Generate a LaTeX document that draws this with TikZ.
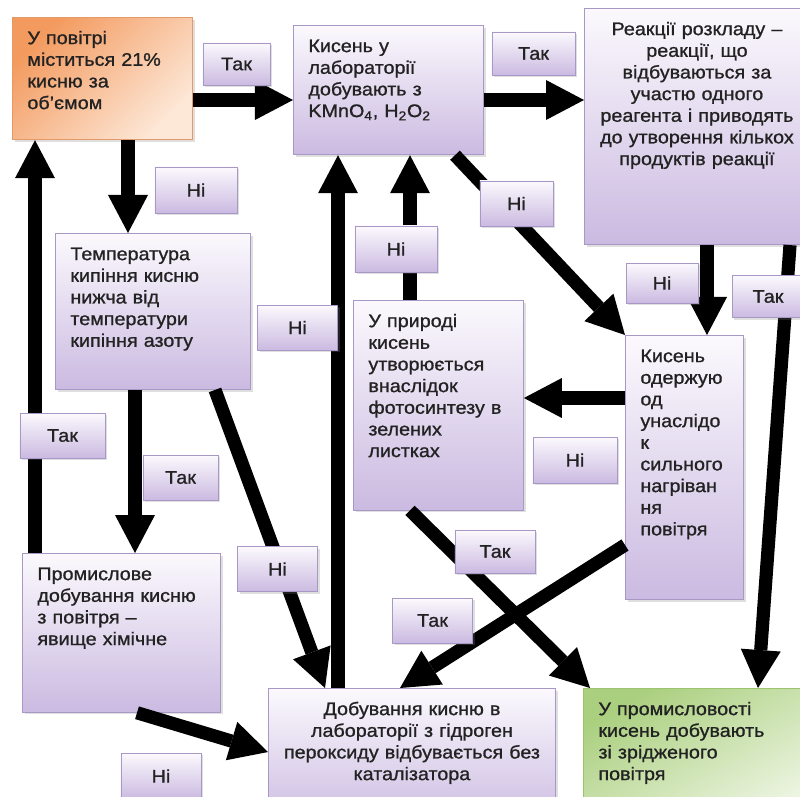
\documentclass[tikz,border=0pt]{standalone}
\usepackage{fontspec}
\setmainfont{Liberation Sans}
\newfontfamily\boxfont{Liberation Sans}[FakeStretch=1.08, FakeBold=1]
\usepackage{xcolor}
\usepackage{tikz}
\usetikzlibrary{arrows.meta, shadows}

\definecolor{lavtop}{HTML}{FBF9FD}
\definecolor{lavbot}{HTML}{CBBAE1}
\definecolor{lavline}{HTML}{A898C6}
\definecolor{orgtop}{HTML}{F39A5E}
\definecolor{orgbot}{HTML}{FDE8D8}
\definecolor{orgline}{HTML}{E39A68}
\definecolor{grntop}{HTML}{AACF7E}
\definecolor{grnbot}{HTML}{EDF5E2}
\definecolor{grnline}{HTML}{9CC46F}
\definecolor{ink}{HTML}{222222}

\begin{document}
\begin{tikzpicture}[
    x=0.025cm, y=-0.025cm,
    shell/.style={rectangle, draw=lavline, line width=0.6pt, top color=lavtop, bottom color=lavbot,
        drop shadow={shadow xshift=1.5pt, shadow yshift=-1.5pt, opacity=0.25},
        text=ink, font=\boxfont\fontsize{13pt}{15.4pt}\selectfont},
    box/.style={shell, anchor=north west, align=left, inner xsep=0.375cm, inner ysep=9pt, text height=10pt},
    tag/.style={shell, align=center, inner sep=0pt, minimum width=2cm, minimum height=1.125cm},
    arrow/.style={-{Triangle[width=1cm, length=0.95cm, line width=0pt]}, line width=0.33cm},
]
    \clip (0,0) rectangle (800,796);
    \fill[white] (0,0) rectangle (800,796);

    \node[box, top color=orgtop, bottom color=orgbot, shading angle=45, draw=orgline, text width=3.75cm, text depth=59pt] (air) at (12,17) {У повітрі\\ міститься 21\%\\ кисню за\\ об’ємом};
    \node[box, text width=4cm, text depth=64pt] (lab) at (293,25) {Кисень у\\ лабораторії\\ добувають з\\ KMnO\textsubscript{4}, H\textsubscript{2}O\textsubscript{2}};
    \node[box, align=center, inner xsep=0.2cm, text width=5.225cm, text depth=140pt] (decomp) at (584,8) {Реакції розкладу –\\ реакції, що\\ відбуваються за\\ участю одного\\ реагента~і~приводять\\ до~утворення~кількох\\ продуктів реакції};
    \node[box, text width=4.125cm, text depth=83pt] (temp) at (55,233) {Температура\\ кипіння кисню\\ нижча від\\ температури\\ кипіння азоту};
    \node[box, text width=3.5cm, text depth=121pt] (nature) at (353,300) {У природі\\ кисень\\ утворюється\\ внаслідок\\ фотосинтезу~в\\ зелених\\ листках};
    \node[box, text width=2.2cm, text depth=160pt] (heat) at (625,335) {Кисень\\ одержую\\ од\\ унаслідо\\ к\\ сильного\\ нагріван\\ ня\\ повітря};
    \node[box, text width=4.2cm, text depth=85pt] (ind) at (22,553) {Промислове\\ добування~кисню\\ з повітря –\\ явище хімічне};
    \node[box, align=center, inner xsep=0.2cm, text width=6.775cm, text depth=70pt] (perox) at (268,688) {Добування кисню в\\ лабораторії з гідроген\\ пероксиду~відбувається~без\\ каталізатора};
    \node[box, top color=grntop, bottom color=grnbot, shading angle=30, draw=grnline, text width=4.875cm, text depth=70pt] (liquid) at (583,688) {У промисловості\\ кисень добувають\\ зі зрідженого\\ повітря};

    \draw[arrow] (air.east |- 0,100) -- (lab.west |- 0,100);
    \draw[arrow] (lab.east |- 0,100) -- (decomp.west |- 0,100);
    \draw[arrow] (128,0 |- air.south) -- (128,0 |- temp.north);
    \draw[arrow] (35,0 |- ind.north) -- (35,0 |- air.south);
    \draw[arrow] (135,0 |- temp.south) -- (135,0 |- ind.north);
    \draw[arrow] (215,0 |- temp.south) -- (325,0 |- perox.north);
    \draw[arrow] (338,0 |- perox.north) -- (338,0 |- lab.south);
    \draw[arrow] (410,0 |- nature.north) -- (410,0 |- lab.south);
    \draw[arrow] (455,0 |- lab.south) -- (heat.north west);
    \draw[arrow] (707,0 |- decomp.south) -- (707,0 |- heat.north);
    \draw[arrow] (790,0 |- decomp.south) -- (758,0 |- liquid.north);
    \draw[arrow] (heat.west |- 0,398) -- (nature.east |- 0,398);
    \draw[arrow] (heat.west |- 0,545) -- (400,0 |- perox.north);
    \draw[arrow] (410,0 |- nature.south) -- (590,0 |- liquid.north);
    \draw[arrow] (137,0 |- ind.south) -- (perox.west |- 0,752);

    \node[tag, minimum width=1.675cm, minimum height=1.05cm] (yes1) at (236.5,64) {Так};
    \node[tag, minimum width=2.075cm, minimum height=1.075cm] (yes2) at (533.5,53.5) {Так};
    \node[tag, minimum width=1.8cm, minimum height=1.05cm] (yes3) at (768,296.5) {Так};
    \node[tag, minimum width=2.125cm] (yes4) at (62.5,435.5) {Так};
    \node[tag, minimum width=1.875cm] (yes5) at (180.5,477.5) {Так};
    \node[tag, minimum height=1.075cm] (yes6) at (495,551.5) {Так};
    \node[tag] (yes7) at (432.5,620.5) {Так};
    \node[tag, minimum width=2.05cm, minimum height=1.15cm] (no1) at (196,190) {Ні};
    \node[tag] (no2) at (297.5,327.5) {Ні};
    \node[tag, minimum width=1.825cm] (no3) at (516.5,203.5) {Ні};
    \node[tag, minimum width=2.05cm, minimum height=1.15cm] (no4) at (396,249) {Ні};
    \node[tag, minimum width=1.8cm, minimum height=1cm] (no5) at (662,283) {Ні};
    \node[tag] (no6) at (277.5,569) {Ні};
    \node[tag, minimum width=2.1cm, minimum height=1.15cm] (no7) at (575,460) {Ні};
    \node[tag, minimum height=1.15cm] (no8) at (161,776) {Ні};
\end{tikzpicture}
\end{document}
